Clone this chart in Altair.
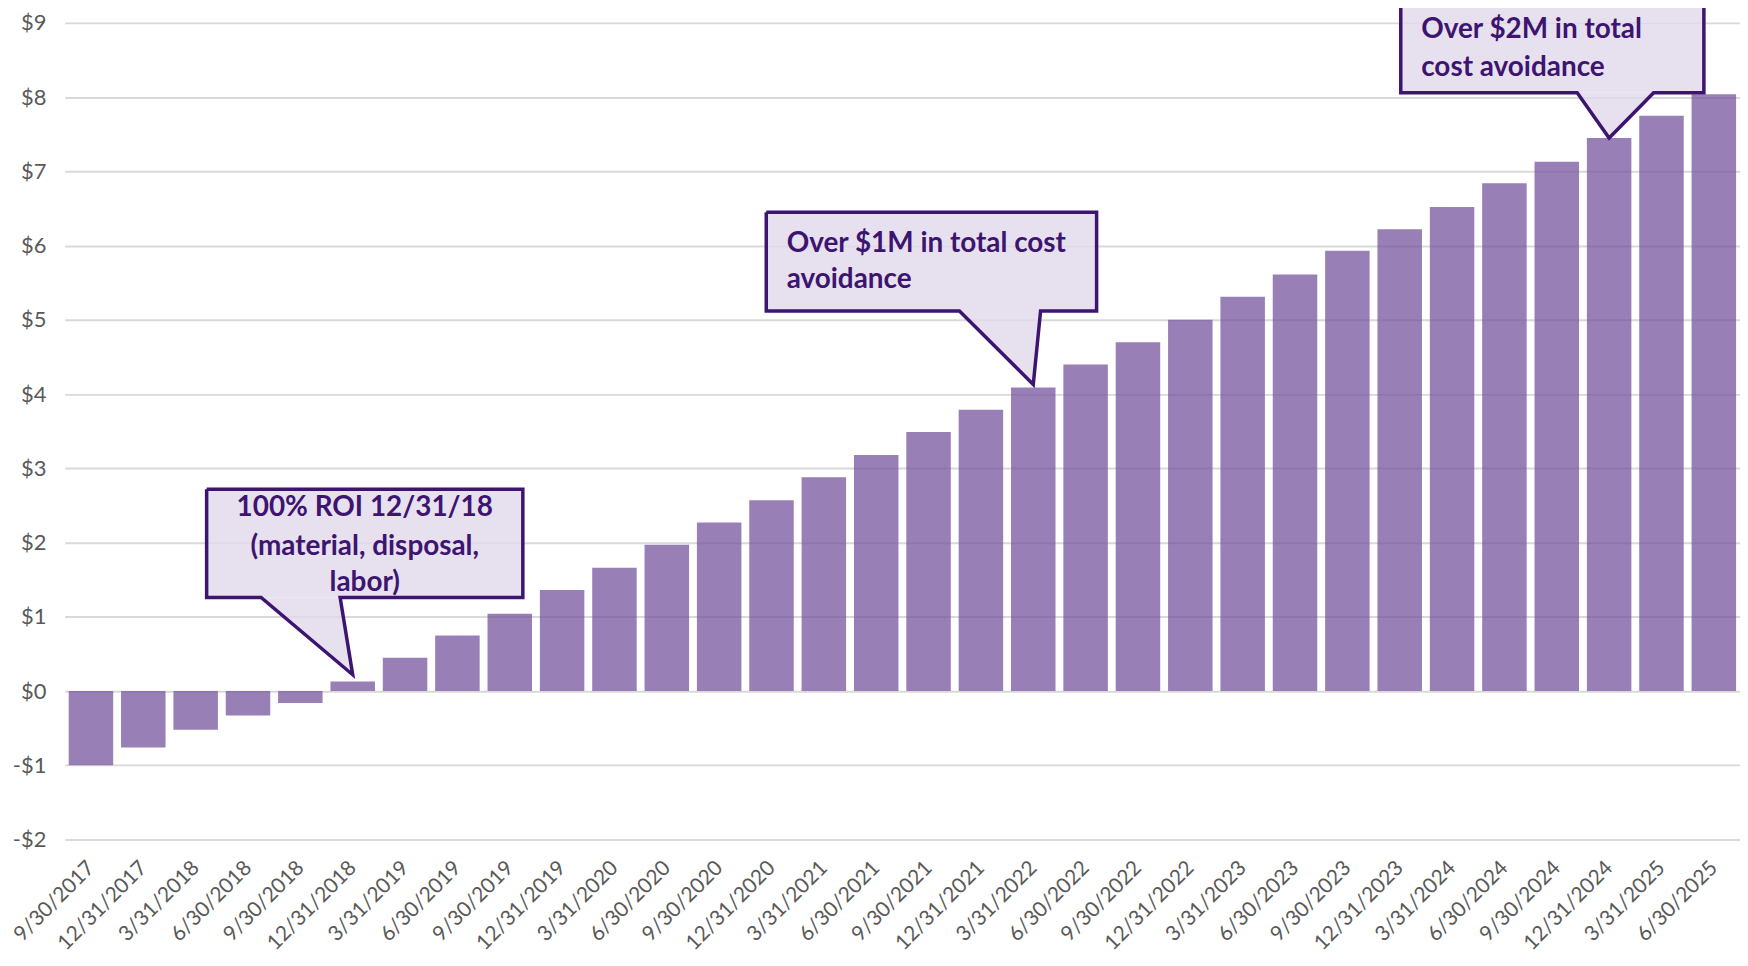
import altair as alt
import pandas as pd

# ---------------- data ----------------
dates = ["9/30/2017", "12/31/2017", "3/31/2018", "6/30/2018", "9/30/2018", "12/31/2018",
         "3/31/2019", "6/30/2019", "9/30/2019", "12/31/2019", "3/31/2020", "6/30/2020",
         "9/30/2020", "12/31/2020", "3/31/2021", "6/30/2021", "9/30/2021", "12/31/2021",
         "3/31/2022", "6/30/2022", "9/30/2022", "12/31/2022", "3/31/2023", "6/30/2023",
         "9/30/2023", "12/31/2023", "3/31/2024", "6/30/2024", "9/30/2024", "12/31/2024",
         "3/31/2025", "6/30/2025"]
values = [-1.00, -0.76, -0.52, -0.33, -0.16, 0.13, 0.45, 0.75, 1.04, 1.36, 1.66, 1.97,
          2.27, 2.57, 2.88, 3.18, 3.49, 3.79, 4.09, 4.40, 4.70, 5.00, 5.31, 5.61,
          5.93, 6.22, 6.52, 6.84, 7.13, 7.45, 7.75, 8.04]
y_ticks = [-2, -1, 0, 1, 2, 3, 4, 5, 6, 7, 8, 9]

# callout texts
callout_texts = [
    ["100% ROI 12/31/18", "(material, disposal,", "labor)"],
    ["Over $1M in total cost", "avoidance"],
    ["Over $2M in total", "cost avoidance"],
]
callout_bars = [5, 18, 29]  # bar each callout points to

# callout layout (in data units of the chart's scales)
callout_layout = [
    dict(left=2.21, right=8.25, top=2.72, bottom=1.26, base_l=3.25, base_r=4.76, gap=0.09,
         tx=5.23, ty=[2.47, 1.94, 1.45], align="center"),
    dict(left=12.90, right=19.21, top=6.45, bottom=5.12, base_l=16.59, base_r=18.14, gap=0.04,
         tx=13.29, ty=[6.02, 5.53], align="left"),
    dict(left=25.02, right=30.81, top=9.45, bottom=8.06, base_l=28.39, base_r=29.85, gap=0.0,
         tx=25.41, ty=[8.90, 8.39], align="left"),
]

# ---------------- styles ----------------
BAR_COLOR = "#74539e"
DARK = "#3d1470"
BOX_FILL = "#e2dbec"
FONT = "Lato"
HALF = 0.425

bars = pd.DataFrame({"idx": list(range(len(dates))), "label": dates, "value": values})

outline_rows, area_rows, rect_rows, text_c, text_l = [], [], [], [], []
for cid, (lay, bi, lines) in enumerate(zip(callout_layout, callout_bars, callout_texts)):
    tip_x = bi
    tip_y = values[bi] + lay["gap"]
    pts = [(lay["left"], lay["top"]), (lay["right"], lay["top"]), (lay["right"], lay["bottom"]),
           (lay["base_r"], lay["bottom"]), (tip_x, tip_y), (lay["base_l"], lay["bottom"]),
           (lay["left"], lay["bottom"]), (lay["left"], lay["top"])]
    for o, (px, py) in enumerate(pts):
        outline_rows.append({"id": cid, "o": o, "x": px, "y": py})
    area_rows.append({"id": cid, "y": lay["bottom"], "x": lay["base_l"], "x2": lay["base_r"]})
    area_rows.append({"id": cid, "y": tip_y, "x": tip_x, "x2": tip_x})
    rect_rows.append({"id": cid, "l": lay["left"], "r": lay["right"], "t": lay["top"], "b": lay["bottom"]})
    for line, ty in zip(lines, lay["ty"]):
        row = {"x": lay["tx"], "y": ty, "text": line}
        (text_c if lay["align"] == "center" else text_l).append(row)

outline = pd.DataFrame(outline_rows)
area = pd.DataFrame(area_rows)
rects = pd.DataFrame(rect_rows)
tc = pd.DataFrame(text_c)
tl = pd.DataFrame(text_l)

xs = alt.Scale(domain=[-0.5, len(dates) - 0.5], nice=False, zero=False)
ys = alt.Scale(domain=[-2, 9], nice=False, zero=False)

label_arr = "[" + ",".join("'" + d + "'" for d in dates) + "]"

x_axis = alt.Axis(values=list(range(len(dates))), labelExpr=label_arr + "[datum.value]",
                  labelAngle=315, labelAlign="right", labelBaseline="middle",
                  labelPadding=25, labelOverlap=False, labelBound=False, labelFlush=False,
                  grid=False, domain=False, ticks=False, title=None,
                  labelFont=FONT, labelFontSize=21, labelColor="#595959")
y_axis = alt.Axis(values=y_ticks,
                  labelExpr="datum.value < 0 ? '-$' + abs(datum.value) : '$' + datum.value",
                  grid=True, gridColor="#d9d9d9", gridWidth=2, domain=False, ticks=False,
                  title=None, labelPadding=19, labelFont=FONT, labelFontSize=22,
                  labelColor="#595959")


def X(field):
    return alt.X(field, scale=xs, axis=x_axis, title=None)


def Y(field):
    return alt.Y(field, scale=ys, axis=y_axis, title=None)


bar_layer = alt.Chart(bars).transform_calculate(
    x0=f"datum.idx - {HALF}", x1=f"datum.idx + {HALF}"
).mark_bar(color=BAR_COLOR, opacity=0.74).encode(
    x=X("x0:Q"), x2="x1:Q",
    y=Y("value:Q"), y2=alt.datum(0),
)

rect_layer = alt.Chart(rects).mark_rect(fill=BOX_FILL, fillOpacity=0.82).encode(
    x=X("l:Q"), x2="r:Q", y=Y("t:Q"), y2="b:Q",
)

tri_layer = alt.Chart(area).mark_area(orient="horizontal", fill=BOX_FILL, fillOpacity=0.82,
                                      interpolate="linear").encode(
    y=Y("y:Q"), x=X("x:Q"), x2="x2:Q", detail="id:N",
)

outline_layer = alt.Chart(outline).mark_line(color=DARK, strokeWidth=3.5, strokeJoin="miter",
                                             interpolate="linear").encode(
    x=X("x:Q"), y=Y("y:Q"), detail="id:N", order="o:Q",
)

text_center = alt.Chart(tc).mark_text(font=FONT, fontWeight="bold", fontSize=28, color=DARK,
                                      align="center", baseline="middle").encode(
    x=X("x:Q"), y=Y("y:Q"), text="text:N")

text_left = alt.Chart(tl).mark_text(font=FONT, fontWeight="bold", fontSize=28, color=DARK,
                                    align="left", baseline="middle").encode(
    x=X("x:Q"), y=Y("y:Q"), text="text:N")

chart = alt.layer(bar_layer, rect_layer, tri_layer, outline_layer, text_center, text_left).properties(
    width=1682, height=820,
    autosize=alt.AutoSizeParams(type="none"),
    padding={"left": 57, "top": 13, "right": 0, "bottom": 125},
    background="white",
).configure_view(stroke=None)

chart.save("out.html", embed_options={"renderer": "svg", "actions": False})
